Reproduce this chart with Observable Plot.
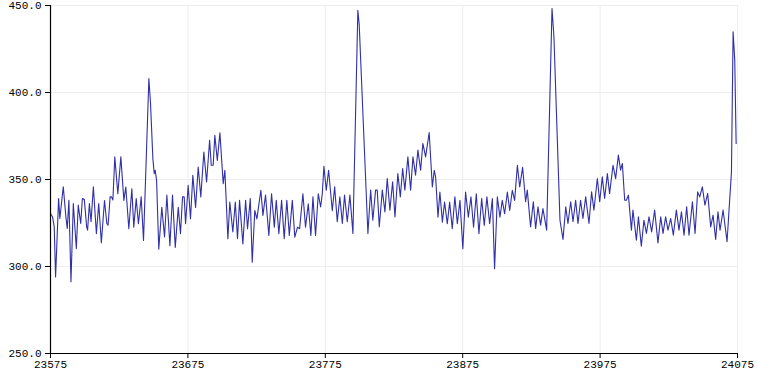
<!DOCTYPE html>
<html>
<head>
<meta charset="utf-8">
<script src="https://cdn.jsdelivr.net/npm/d3@7"></script>
<script src="https://cdn.jsdelivr.net/npm/@observablehq/plot@0.6"></script>
<style>
  html, body { margin: 0; padding: 0; background: #fff; }
  #chart { width: 757px; height: 375px; }
</style>
</head>
<body>
<div id="chart"></div>
<script>
const xTicks = [23575, 23675, 23775, 23875, 23975, 24075];
const yTicks = [250, 300, 350, 400, 450];

const sampleX = [
23575,23576.5,23577.7,23578.7,23580.9,23581.8,23584.3,23586.2,23587.2,23588.4,23589.9,23591.6,23593.8,23595.2,23597,23598.2,23599.6,23601.3,23602,23603.3,23604.5,23606.2,23608.4,23610.1,23612,23614.3,23616,23616.9,23618.4,23619.4,23620.4,23621.8,
23624,23626.2,23628.4,23629.8,23632,23634.2,23635.6,23637.4,23639,23641,23642.7,
23646.6,23647.8,23649.5,23650.5,23651.2,23652.2,23653.8,23656,23658,23659.7,23661.9,23663.8,23665.8,23668,23669.6,23671.1,23672.3,23673.3,23675.2,23676.9,23678.6,23680.6,23682.5,23684.4,23686.6,23688.6,23690.8,23692,23693.4,23694.6,23696.4,23698.3,23700.7,23701.9,23704.1,23705.5,23707.7,23709.5,23711.1,
23712.6,23715,23717,23718.4,23720.4,23721.8,23723.7,23725.2,23728.1,23729.6,23731.5,23733.9,23735.9,23737.9,23739.3,23741.2,23743.2,23745.1,23747,23748.8,23751,23752.8,23754.8,23756.3,23758.7,23760.6,23762.6,23764.5,23766,23767.9,23769.9,23771.6,23772.8,23774,23775.7,23777.4,
23780.1,23781.8,23783.7,23785.6,23787.4,23789,23791,23792.9,23795.1,23798.7,23799.7,23806,23808,23809.6,23811.6,23812.8,23814.3,23816.5,23818.4,23820.1,23822,23824,23825.7,23827.8,23829.6,23831.3,23832.9,23835.1,23837.1,23838.8,23840.7,23842.4,23844.4,23846,23848,23850.6,
23852.9,23854.3,23855.3,23857,23858.4,23860.2,23861.8,23863.8,23865.5,23867.4,23869.3,23871.1,23873,23875.1,23877.1,23879.1,23881,23882.9,23884.9,23886.8,23888.8,23890.7,23892.6,23894.6,23896.6,23898.2,23900.2,23902.1,23903.8,23905.5,23907.5,23909.2,23911.1,23912.8,23914.8,23916.5,23918.6,
23920.8,23922,23924.4,23926.4,23928.1,23929.8,23931.7,23933.4,23936.1,23940,23941.4,23945.8,23948,23950,23951.6,23953.6,23955.3,23957.2,23958.9,23960.8,23962.5,23964.5,23966.9,23968.8,23970.5,23973,23974.7,23976.6,23978.3,23980.3,23981.9,23984.4,23986.3,23988.3,
23989.9,23991.2,23992.9,23994.1,23995.6,23997.8,23998.9,24001.4,24002.9,24005,24006.9,24008.7,24010.6,24012.5,24014.7,24017.1,24019.1,24020.8,24022.7,24024.4,24026.4,24028.3,24030.5,24032.4,24034.2,24036.1,24038,24039.7,24042.2,24044.1,24046,24047.5,24049.4,24051.3,24053.3,24055.5,24057.2,24059.1,24060.8,24062.3,24064.5,24067.4,24070.6,24071.8,24073,24074
];

const sampleY = [
330.5,328.5,322.8,294,339,327.6,345.8,328.5,321.8,338.1,291.2,336.2,310.3,335.3,324.7,339.1,338.7,322.8,320.9,336.2,325.7,345.8,318.8,336.2,313.6,337.9,324.7,323.7,340,340,338.2,363,
341.8,363,338,345.7,321.7,344.7,322.6,339,324.6,340,315,
408,393.7,362,353.4,355.3,349.5,310,334,317,341,312,341,311,334,318.8,340,340,324.6,346.6,327.4,352.4,334,357.2,340,365.8,348.6,372.6,358.2,358.2,375.4,361,376.8,347.6,355.3,316,337,319.8,337,316,
338,313,338,321.7,339,302.5,332.2,327.4,343.8,329.4,341,317.9,341.8,322.6,338,318.8,338,316,338,317.9,338,316.9,322.6,321.7,341.8,322.6,336,317.9,340,317.9,341.8,334.2,341.8,357.6,343.8,355.3,
332,345.8,325.7,340,324.7,341,325.7,341,319,447.3,438.7,319,343.9,326.6,343.9,343.9,322.8,343.9,331.4,350.6,332.4,348.7,328.5,353.4,340,356.3,343.9,363,343.9,363,352.5,366.9,355.4,370.7,363,377,
345.7,355.3,351.4,328.4,342.8,325.5,337,324.6,337,321.7,340,324.6,338,310.2,342.8,328.4,340,322.6,341.8,318.8,339,323.6,340,324.6,339,298.7,340,328.4,338,330.3,342.8,332.2,343.8,338,358.2,345.7,357,
337.2,343.9,322.8,337.2,321.8,334.3,323.8,333.3,320.9,448.3,432,326.6,315.6,334.3,324.7,337.2,325.7,338.1,324.7,338.1,327.6,340,324.7,342.9,332.4,350.6,337.2,351.5,339.1,353.4,341.9,358.2,350.5,364,
355.4,359.2,338.1,338.1,341,320.9,332.4,315.1,328.5,311.7,326.6,319,328.5,319.9,332.4,313.6,328.5,319,328.5,320.9,327.6,318,332.4,320.9,331.4,318,334.3,318,337.2,319,342.9,340,345.8,335.3,342,322.8,329.5,315.6,331.4,320.9,332.4,314.2,354.4,434.9,418.6,370.7
];

const data = sampleX.map((x, i) => ({x, y: sampleY[i]}));

const chart = Plot.plot({
  width: 757,
  height: 375,
  marginLeft: 50,
  marginRight: 20,
  marginTop: 5,
  marginBottom: 22,
  style: { fontFamily: "Liberation Mono, DejaVu Sans Mono, monospace", fontSize: "11px", background: "#fff", color: "#000" },
  x: { domain: [23575, 24075] },
  y: { domain: [250, 450] },
  marks: [
    Plot.gridX(xTicks, { stroke: "#ededed", strokeOpacity: 1 }),
    Plot.gridY(yTicks, { stroke: "#ededed", strokeOpacity: 1 }),
    Plot.line(data, { x: "x", y: "y", stroke: "#3030a8", strokeWidth: 1.1 }),
    Plot.axisY({ ticks: yTicks, tickSize: 5, tickPadding: 4, tickFormat: d3.format(".1f"), label: null, stroke: "#000" }),
    Plot.axisX({ ticks: xTicks, tickSize: 5, tickPadding: 2, tickFormat: d => String(d), label: null, stroke: "#000" }),
    Plot.ruleX([23575], { stroke: "#000", strokeWidth: 1.2 }),
    Plot.ruleY([250], { stroke: "#000", strokeWidth: 1.2 })
  ]
});
document.getElementById("chart").appendChild(chart);
</script>
</body>
</html>
